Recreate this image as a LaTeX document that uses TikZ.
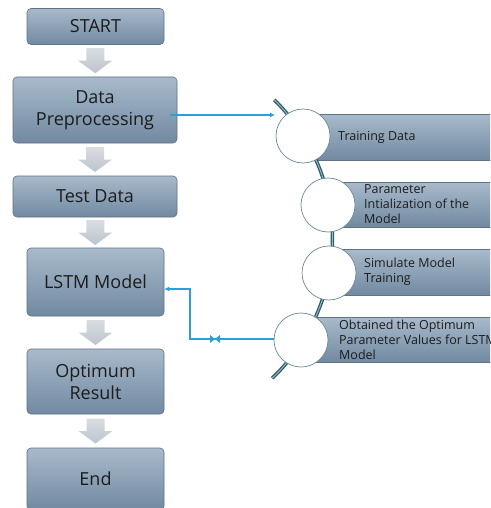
\documentclass[tikz,border=0pt]{standalone}
\usepackage{fontspec}
\setmainfont{Open Sans}
\usetikzlibrary{calc,arrows.meta}
\definecolor{boxtop}{HTML}{A8BACB}
\definecolor{boxbot}{HTML}{7189A1}
\definecolor{boxedge}{HTML}{5E7282}
\definecolor{txt}{HTML}{1C1C1C}
\definecolor{cblue}{HTML}{2A9FD8}
\definecolor{cedge}{HTML}{6B8A93}
\definecolor{dteal}{HTML}{2F5D6B}
\definecolor{lteal}{HTML}{9BBBC6}
\definecolor{gtop}{HTML}{D9DDE3}
\definecolor{gbot}{HTML}{BEC4CC}
\tikzset{
  lbox/.style={draw=boxedge, line width=0.6pt, rounded corners=4pt,
    top color=boxtop, bottom color=boxbot, text=txt, align=center,
    font=\fontsize{18}{22}\selectfont, inner sep=0pt},
  rbox/.style={draw=boxedge, line width=0.6pt, top color=boxtop, bottom color=boxbot,
    anchor=north west, inner sep=0pt},
  rtext/.style={anchor=west, align=left, text=txt, inner sep=0pt,
    font=\fontsize{12.5}{15}\selectfont},
  circ/.style={circle, draw=cedge, line width=0.7pt, fill=white, minimum size=54pt, inner sep=0pt},
  dline/.style={draw=dteal, line width=1.3pt, double=lteal, double distance=0.9pt},
  bconn/.style={draw=cblue, line width=1.3pt},
  garrow/.style={top color=gtop, bottom color=gbot}
}
\newcommand\blockarrow[2]{%
  \path[garrow] let \p1=($(#1.south)!0.5!(#2.north)$) in
   (\x1-9pt,\y1+12.5pt) -- (\x1+9pt,\y1+12.5pt) -- (\x1+9pt,\y1) -- (\x1+17pt,\y1)
   -- (\x1,\y1-12.5pt) -- (\x1-17pt,\y1) -- (\x1-9pt,\y1) -- cycle;}
\begin{document}
\begin{tikzpicture}[x=1pt,y=-1pt]
\clip (0,0) rectangle (490,508);
\fill[white] (0,0) rectangle (490,508);

% left column
\node[lbox, minimum width=137pt, minimum height=36pt] (start) at (95.5,26.5) {START};
\node[lbox, minimum width=164pt, minimum height=66pt] (prep) at (95,110) {Data\\Preprocessing};
\node[lbox, minimum width=164pt, minimum height=41pt] (test) at (95,196.5) {Test Data};
\node[lbox, minimum width=137pt, minimum height=68pt] (lstm) at (95.5,282) {LSTM Model};
\node[lbox, minimum width=137pt, minimum height=65pt] (opt) at (95.5,381.5) {Optimum\\Result};
\node[lbox, minimum width=137pt, minimum height=62pt] (end) at (95.5,479) {End};

\blockarrow{start}{prep}
\blockarrow{prep}{test}
\blockarrow{test}{lstm}
\blockarrow{lstm}{opt}
\blockarrow{opt}{end}

% right list boxes
\node[rbox, minimum width=190pt, minimum height=46pt] (b1) at (303,114) {};
\node[rbox, minimum width=170pt, minimum height=45pt] (b2) at (328,182) {};
\node[rbox, minimum width=170pt, minimum height=46pt] (b3) at (329,249) {};
\node[rbox, minimum width=190pt, minimum height=45pt] (b4) at (301,317) {};

% arc
\draw[dline] plot[domain=-45.7:46.6, samples=80, smooth] ({139.5+193*cos(\x)},{238+193*sin(\x)});

% circles
\node[circ] (c1) at (303,136) {};
\node[circ] (c2) at (328,205) {};
\node[circ] (c3) at (329,273) {};
\node[circ] (c4) at (301,340) {};

% texts
\node[rtext] (t1) at (338,137) {Training Data};
\node[rtext] (t2) at (364,204.5) {Parameter\\Intialization of the\\Model};
\node[rtext] (t3) at (364,272) {Simulate Model\\Training};
\node[rtext] (t4) at (339,340) {Obtained the Optimum\\Parameter Values for LSTM\\Model};

% blue connectors
\coordinate (a1end) at (275,115);
\draw[bconn, -{Latex[length=5pt,width=5pt]}] ([xshift=-7pt,yshift=-5pt]prep.east) -- (a1end);
\coordinate (bend) at (190,339);
\draw[bconn, -{Latex[length=5pt,width=5pt]}] (c4.west |- bend) -- (bend) |- ([yshift=-7pt]lstm.east);
\coordinate (bow) at (215,339);
\fill[cblue] ([xshift=-5pt,yshift=-4pt]bow) -- (bow) -- ([xshift=-5pt,yshift=4pt]bow) -- cycle;
\fill[cblue] ([xshift=5pt,yshift=-4pt]bow) -- (bow) -- ([xshift=5pt,yshift=4pt]bow) -- cycle;
\end{tikzpicture}
\end{document}
